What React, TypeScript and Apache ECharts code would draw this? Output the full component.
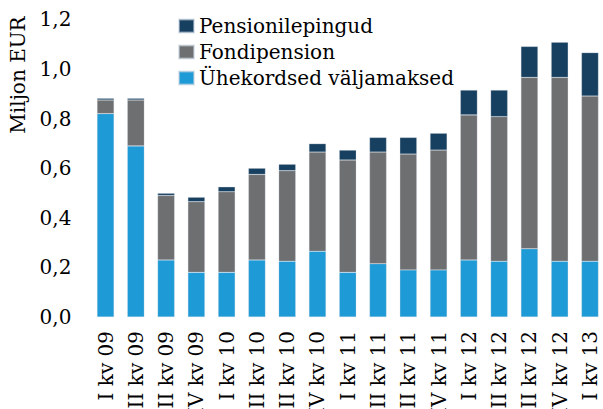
import React, { useEffect, useRef } from "react";
import * as echarts from "echarts";

const categories = [
  "I kv 09", "II kv 09", "III kv 09", "IV kv 09",
  "I kv 10", "II kv 10", "III kv 10", "IV kv 10",
  "I kv 11", "II kv 11", "III kv 11", "IV kv 11",
  "I kv 12", "II kv 12", "III kv 12", "IV kv 12",
  "I kv 13",
];

const uhekordsed = [0.82, 0.69, 0.23, 0.18, 0.18, 0.23, 0.225, 0.265, 0.18, 0.215, 0.19, 0.19, 0.23, 0.225, 0.275, 0.225, 0.225];
const fondipension = [0.055, 0.185, 0.26, 0.285, 0.325, 0.345, 0.365, 0.4, 0.453, 0.45, 0.467, 0.483, 0.585, 0.583, 0.691, 0.741, 0.666];
const pensionilepingud = [0.007, 0.007, 0.009, 0.018, 0.02, 0.025, 0.026, 0.034, 0.04, 0.059, 0.067, 0.068, 0.1, 0.107, 0.125, 0.142, 0.175];

const yTicks = { min: 0, max: 1.2, interval: 0.2 };

const FONT = "DejaVu Serif";

export default function App() {
  const ref = useRef<HTMLDivElement>(null);
  useEffect(() => {
    if (!ref.current) return;
    const chart = echarts.init(ref.current, null, { renderer: "svg" });
    const border = { borderColor: "rgba(200,212,224,0.55)", borderWidth: 0.5 };
    chart.setOption({
      animation: false,
      grid: {
        left: 90.4,
        top: 19.4,
        width: 514.7,
        height: 297.6,
        containLabel: false,
        outerBoundsMode: "none",
      },
      legend: {
        orient: "vertical",
        left: 178,
        top: 16,
        padding: 0,
        itemWidth: 15,
        itemHeight: 13,
        itemGap: 6,
        icon: "rect",
        data: ["Pensionilepingud", "Fondipension", "Ühekordsed väljamaksed"],
        textStyle: { fontFamily: FONT, fontSize: 20, color: "#000" },
      },
      graphic: [
        {
          type: "text",
          x: 18,
          y: 75,
          rotation: Math.PI / 2,
          style: {
            text: "Miljon EUR",
            fontFamily: FONT,
            fontSize: 20,
            fill: "#000",
            align: "center",
            verticalAlign: "middle",
          },
        },
      ],
      xAxis: {
        type: "category",
        data: categories,
        axisLine: { show: false },
        axisTick: { show: false },
        axisLabel: {
          rotate: 90,
          interval: 0,
          margin: 14,
          fontFamily: FONT,
          fontSize: 20,
          color: "#000",
        },
      },
      yAxis: {
        type: "value",
        min: yTicks.min,
        max: yTicks.max,
        interval: yTicks.interval,
        splitLine: { show: false },
        axisLine: { show: false },
        axisTick: { show: false },
        axisLabel: {
          margin: 19,
          fontFamily: FONT,
          fontSize: 20,
          color: "#000",
          formatter: (v: number) => v.toFixed(1).replace(".", ","),
        },
      },
      series: [
        {
          name: "Ühekordsed väljamaksed",
          type: "bar",
          stack: "total",
          barWidth: 17,
          data: uhekordsed,
          itemStyle: { color: "#1e9ad6", ...border },
        },
        {
          name: "Fondipension",
          type: "bar",
          stack: "total",
          barWidth: 17,
          data: fondipension,
          itemStyle: { color: "#6e6f71", ...border },
        },
        {
          name: "Pensionilepingud",
          type: "bar",
          stack: "total",
          barWidth: 17,
          data: pensionilepingud,
          itemStyle: { color: "#173f5f", ...border },
        },
      ],
    });
    return () => chart.dispose();
  }, []);
  return (
    <div
      ref={ref}
      style={{ position: "absolute", left: 0, top: 0, width: 603, height: 409, background: "#fff" }}
    />
  );
}
